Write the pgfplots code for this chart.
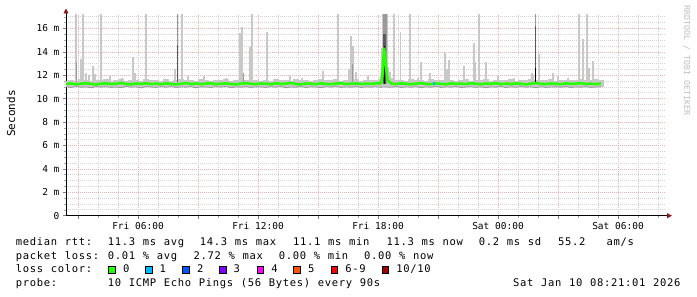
\documentclass[border=0pt]{standalone}
\usepackage{pgfplots}
\pgfplotsset{compat=1.18}
\usepackage{pgfplotstable}
\usetikzlibrary{arrows.meta}
\usepackage{fontspec}
\setmainfont{DejaVu Sans Mono}
\definecolor{loss0}{HTML}{26FF00}
\definecolor{loss1}{HTML}{00B8FF}
\definecolor{loss2}{HTML}{0059FF}
\definecolor{loss3}{HTML}{7E00FF}
\definecolor{loss4}{HTML}{FF00FF}
\definecolor{loss5}{HTML}{FF5500}
\definecolor{loss6}{HTML}{FF0000}
\definecolor{loss10}{HTML}{A10000}
\definecolor{smoke}{HTML}{C8C8C8}
\definecolor{smokemid}{HTML}{9A9A9A}
\definecolor{smokedark}{HTML}{5A5A5A}
\definecolor{mgrid}{HTML}{F2B0B0}
\definecolor{mingrid}{HTML}{D2D2D2}
\definecolor{arrowred}{HTML}{8B1A1A}
\definecolor{watermark}{HTML}{BEBEBE}
\newcommand\mono[1]{\monoloop#1\relax}
\def\monoloop#1{\ifx#1\relax\else\makebox[7pt]{#1}\expandafter\monoloop\fi}
\newcommand\legfont{\fontsize{10.5}{12}\selectfont}

\pgfplotstableread{
h med up lo
2.40 11.26 11.55 11.02
2.65 11.30 11.62 10.96
2.90 11.24 11.50 11.05
3.15 11.28 11.68 10.98
3.40 11.33 11.58 11.01
3.65 11.27 11.52 10.94
3.90 11.22 11.64 11.04
4.15 11.29 11.57 10.99
4.40 11.31 11.70 11.03
4.65 11.25 11.53 10.97
4.90 11.28 11.60 11.00
5.15 11.35 11.66 10.95
5.40 11.26 11.51 11.06
5.65 11.23 11.58 10.99
5.90 11.30 11.63 11.02
6.15 11.27 11.55 10.93
6.40 11.32 11.72 11.04
6.65 11.25 11.57 11.00
6.90 11.29 11.61 10.97
7.15 11.24 11.54 11.03
7.40 11.31 11.65 10.98
7.65 11.27 11.52 11.05
7.90 11.22 11.59 10.96
8.15 11.28 11.67 11.01
8.40 11.34 11.56 10.99
8.65 11.26 11.62 11.04
8.90 11.30 11.50 10.94
9.15 11.25 11.69 11.02
9.40 11.29 11.58 11.00
9.65 11.32 11.55 10.97
9.90 11.24 11.63 11.03
10.15 11.28 11.57 10.99
10.40 11.31 11.66 11.06
10.65 11.26 11.52 10.95
10.90 11.23 11.60 11.01
11.15 11.29 11.71 10.98
11.40 11.33 11.56 11.04
11.65 11.27 11.59 10.96
11.90 11.25 11.64 11.02
12.15 11.30 11.53 11.00
12.40 11.28 11.61 10.97
12.65 11.24 11.55 11.03
12.90 11.32 11.68 10.99
13.15 11.27 11.58 11.05
13.40 11.29 11.63 10.94
13.65 11.35 11.51 11.01
13.90 11.26 11.66 10.98
14.15 11.23 11.57 11.04
14.40 11.30 11.62 10.96
14.65 11.28 11.54 11.02
14.90 11.25 11.60 11.00
15.15 11.31 11.70 10.95
15.40 11.27 11.56 11.03
15.65 11.24 11.59 10.99
15.90 11.29 11.65 11.05
16.15 11.33 11.53 10.97
16.40 11.26 11.62 11.01
16.65 11.28 11.58 10.98
16.90 11.30 11.67 11.04
17.15 11.25 11.55 10.96
17.40 11.29 11.61 11.02
17.65 11.27 11.57 10.99
17.90 11.32 11.64 11.03
18.15 11.30 11.70 10.97
18.22 12.00 11.90 11.00
18.30 14.30 11.90 11.00
18.36 13.60 11.90 11.00
18.40 12.70 11.80 11.00
18.48 11.60 11.80 11.00
18.65 11.30 11.75 10.98
18.90 11.26 11.58 11.04
19.15 11.31 11.63 10.96
19.40 11.28 11.55 11.01
19.65 11.24 11.66 10.99
19.90 11.29 11.59 11.03
20.15 11.33 11.62 10.95
20.40 11.27 11.53 11.02
20.65 11.25 11.68 10.98
20.90 11.30 11.57 11.05
21.15 11.28 11.61 10.97
21.40 11.23 11.56 11.01
21.65 11.31 11.64 10.99
21.90 11.27 11.52 11.04
22.15 11.29 11.60 10.96
22.40 11.26 11.67 11.00
22.65 11.32 11.55 11.03
22.90 11.28 11.62 10.97
23.15 11.24 11.58 11.02
23.40 11.30 11.70 10.94
23.65 11.27 11.54 11.01
23.90 11.33 11.63 10.99
24.15 11.25 11.57 11.05
24.40 11.29 11.60 10.96
24.65 11.26 11.66 11.02
24.90 11.31 11.53 10.98
25.15 11.28 11.61 11.04
25.40 11.22 11.58 10.99
25.65 11.29 11.65 11.01
25.90 11.34 11.56 10.95
26.15 11.27 11.62 11.03
26.40 11.25 11.59 10.97
26.65 11.30 11.68 11.00
26.90 11.28 11.55 11.02
27.15 11.24 11.63 10.98
27.40 11.31 11.57 11.04
27.65 11.27 11.64 10.96
27.90 11.29 11.60 11.01
28.15 11.33 11.72 10.99
28.40 11.26 11.58 11.03
28.65 11.28 11.62 10.97
28.90 11.25 11.66 11.00
29.15 11.30 11.59 11.02
}\rtt

\begin{document}
\begin{tikzpicture}
\path[use as bounding box] (0pt,0pt) rectangle (697pt,-297pt);
\begin{axis}[
  at={(66pt,-215.7pt)}, anchor=south west,
  width=600pt, height=201.2pt, scale only axis,
  xmin=2.4, xmax=32.4, ymin=0, ymax=17.2,
  no markers,
  axis lines=left,
  axis line style={line width=0.9pt, black, -{Triangle[length=5pt,width=5pt,color=arrowred]}},
  x axis line style={shorten >=-6pt},
  y axis line style={shorten >=-6pt},
  xtick={3,6,...,30},
  xticklabels={,Fri 06:00,,Fri 12:00,,Fri 18:00,,Sat 00:00,,Sat 06:00},
  minor xtick={3,4,...,32},
  ytick={0,2,...,16},
  yticklabels={0,2 m,4 m,6 m,8 m,10 m,12 m,14 m,16 m},
  minor ytick={0.5,1,...,17},
  grid=both,
  major grid style={mgrid, line width=0.8pt, dash pattern=on 1pt off 1pt},
  minor grid style={mingrid, line width=0.8pt, dash pattern=on 1pt off 1pt},
  tick align=outside, major tick length=3pt, minor tick length=2pt,
  major tick style={gray, line width=0.6pt},
  minor tick style={gray!70, line width=0.6pt},
  every tick label/.append style={font=\fontsize{9.5}{10}\selectfont, text=black},
]
% smoke band
\addplot[draw=none, error bars/.cd, y dir=both, y explicit,
  error mark=none, error bar style={smoke, line width=5.4pt}]
  table[x=h, y=med, y error plus expr=\thisrow{up}-\thisrow{med},
        y error minus expr=\thisrow{med}-\thisrow{lo}]{\rtt};
\addplot[smokemid, line width=0.9pt] table[x=h,y=lo]{\rtt};
% wide light spikes
\addplot[smoke, line width=2pt, unbounded coords=jump] coordinates {
 (2.875,11.4) (2.875,17.5) (2.875,nan)
 (3.225,11.4) (3.225,17.5) (3.225,nan)
 (4.15,11.4) (4.15,17.5) (4.15,nan)
 (8.175,11.4) (8.175,17.5) (8.175,nan)
 (11.7,11.4) (11.7,17.5) (11.7,nan)
 (16.0,11.4) (16.0,17.5) (16.0,nan)
 (19.6,11.4) (19.6,17.5) (19.6,nan)
 (28.05,11.4) (28.05,17.5) (28.05,nan)
 (28.43,11.4) (28.43,17.5) (28.43,nan)
 (11.6,11.4) (11.6,14.4) (11.6,nan)
 (16.7,11.4) (16.7,12.6) (16.7,nan)
 (22.85,11.4) (22.85,13.1) (22.85,nan)
};
% thin light spikes
\addplot[smoke, line width=1.2pt, unbounded coords=jump] coordinates {
 (3.15,11.4) (3.15,13.4) (3.15,nan)
 (3.4,11.4) (3.4,12.2) (3.4,nan)
 (3.55,11.4) (3.55,12.0) (3.55,nan)
 (3.75,11.4) (3.75,12.8) (3.75,nan)
 (3.85,11.4) (3.85,12.1) (3.85,nan)
 (4.6,11.4) (4.6,11.9) (4.6,nan)
 (5.2,11.4) (5.2,11.8) (5.2,nan)
 (5.75,11.4) (5.75,13.6) (5.75,nan)
 (5.85,11.4) (5.85,12.2) (5.85,nan)
 (6.4,11.4) (6.4,17.5) (6.4,nan)
 (7.85,11.4) (7.85,12.5) (7.85,nan)
 (8.5,11.4) (8.5,11.9) (8.5,nan)
 (9.3,11.4) (9.3,11.9) (9.3,nan)
 (10.4,11.4) (10.4,11.8) (10.4,nan)
 (11.1,11.4) (11.1,15.6) (11.1,nan)
 (11.2,11.4) (11.2,16.1) (11.2,nan)
 (12.45,11.4) (12.45,15.7) (12.45,nan)
 (13.6,11.4) (13.6,11.9) (13.6,nan)
 (14.2,11.4) (14.2,11.8) (14.2,nan)
 (15.25,11.4) (15.25,12.4) (15.25,nan)
 (16.55,11.4) (16.55,12.5) (16.55,nan)
 (16.65,11.4) (16.65,15.4) (16.65,nan)
 (16.75,11.4) (16.75,14.5) (16.75,nan)
 (16.9,11.4) (16.9,12.3) (16.9,nan)
 (17.5,11.4) (17.5,11.9) (17.5,nan)
 (18.6,11.4) (18.6,12.3) (18.6,nan)
 (18.8,11.4) (18.8,17.5) (18.8,nan)
 (19.13,11.4) (19.13,15.7) (19.13,nan)
 (20.0,11.4) (20.0,11.8) (20.0,nan)
 (20.15,11.4) (20.15,13.1) (20.15,nan)
 (20.6,11.4) (20.6,12.2) (20.6,nan)
 (21.35,11.4) (21.35,13.9) (21.35,nan)
 (21.45,11.4) (21.45,12.5) (21.45,nan)
 (21.55,11.4) (21.55,13.3) (21.55,nan)
 (22.3,11.4) (22.3,12.8) (22.3,nan)
 (22.8,11.4) (22.8,14.8) (22.8,nan)
 (23.05,11.4) (23.05,17.5) (23.05,nan)
 (23.4,11.4) (23.4,13.1) (23.4,nan)
 (24.0,11.4) (24.0,11.9) (24.0,nan)
 (24.8,11.4) (24.8,11.8) (24.8,nan)
 (25.7,11.4) (25.7,12.2) (25.7,nan)
 (25.75,11.4) (25.75,12.0) (25.75,nan)
 (26.05,11.4) (26.05,13.8) (26.05,nan)
 (26.75,11.4) (26.75,12.2) (26.75,nan)
 (27.0,11.4) (27.0,11.9) (27.0,nan)
 (27.5,11.4) (27.5,11.8) (27.5,nan)
 (28.25,11.4) (28.25,15.1) (28.25,nan)
 (28.55,11.4) (28.55,12.6) (28.55,nan)
 (28.75,11.4) (28.75,13.2) (28.75,nan)
};
% medium grey spikes
\addplot[smokemid, line width=1pt, unbounded coords=jump] coordinates {
 (2.9,11.4) (2.9,13.1) (2.9,nan)
 (7.975,11.4) (7.975,17.5) (7.975,nan)
 (11.25,11.4) (11.25,12.2) (11.25,nan)
 (25.85,11.4) (25.85,17.5) (25.85,nan)
 (16.7,11.4) (16.7,13.0) (16.7,nan)
};
\addplot[smokedark, line width=1pt, unbounded coords=jump] coordinates {
 (7.975,11.4) (7.975,14.6) (7.975,nan)
 (25.85,11.4) (25.85,16.2) (25.85,nan)
};
% cluster around Fri 18:20
\addplot[smoke, line width=6.8pt] coordinates {(18.35,11.3) (18.35,17.5)};
\addplot[smokemid, line width=4pt] coordinates {(18.33,11.3) (18.33,17.5)};
\addplot[smokedark, line width=2.8pt] coordinates {(18.34,11.3) (18.34,15.5)};
\addplot[black, line width=1.4pt] coordinates {(18.335,11.3) (18.335,14.5)};
\addplot[black, line width=1pt] coordinates {(25.85,11.3) (25.85,12.6)};
% median
\addplot[loss0, line width=2.6pt, line join=round] table[x=h,y=med]{\rtt};
\addplot[loss1, line width=2.6pt] coordinates {(20.77,11.28) (20.85,11.28)};
\end{axis}
% axis title and watermark
\node[rotate=90, font=\fontsize{11}{12}\selectfont] at (11pt,-113.5pt) {Seconds};
\node[rotate=-90, anchor=west, inner sep=0pt, text=watermark, font=\fontsize{8.3}{9}\selectfont] at (686.7pt,-5pt) {RRDTOOL / TOBI OETIKER};
% legend rows
\begin{scope}[every node/.style={anchor=base west, inner sep=0pt, font=\legfont}]
\node at (15.3pt,-245pt) {\mono{median~rtt:}};
\node at (107.3pt,-245pt) {\mono{11.3~ms~avg}};
\node at (199.3pt,-245pt) {\mono{14.3~ms~max}};
\node at (292.6pt,-245pt) {\mono{11.1~ms~min}};
\node at (386pt,-245pt) {\mono{11.3~ms~now}};
\node at (478.3pt,-245pt) {\mono{0.2~ms~sd}};
\node at (557.6pt,-245pt) {\mono{55.2}};
\node at (606pt,-245pt) {\mono{am/s}};
\node at (15.3pt,-259pt) {\mono{packet~loss:}};
\node at (107.3pt,-259pt) {\mono{0.01~\%~avg}};
\node at (193pt,-259pt) {\mono{2.72~\%~max}};
\node at (278.3pt,-259pt) {\mono{0.00~\%~min}};
\node at (363.6pt,-259pt) {\mono{0.00~\%~now}};
\node at (15.3pt,-272.7pt) {\mono{loss~color:}};
\node at (122.5pt,-272.7pt) {\mono{0}};
\node at (159.2pt,-272.7pt) {\mono{1}};
\node at (196.5pt,-272.7pt) {\mono{2}};
\node at (233.2pt,-272.7pt) {\mono{3}};
\node at (270.9pt,-272.7pt) {\mono{4}};
\node at (307.5pt,-272.7pt) {\mono{5}};
\node at (344.9pt,-272.7pt) {\mono{6-9}};
\node at (395.9pt,-272.7pt) {\mono{10/10}};
\node at (15.3pt,-286.7pt) {\mono{probe:}};
\node at (107.3pt,-286.7pt) {\mono{10~ICMP~Echo~Pings~(56~Bytes)~every~90s}};
\node at (512.6pt,-286.7pt) {\mono{Sat~Jan~10~08:21:01~2026}};
\end{scope}
\begin{scope}[line width=0.8pt, draw=black]
\filldraw[fill=loss0] (108.7pt,-272.9pt) rectangle ++(6.6pt,6.6pt);
\filldraw[fill=loss1] (145.4pt,-272.9pt) rectangle ++(6.6pt,6.6pt);
\filldraw[fill=loss2] (182.7pt,-272.9pt) rectangle ++(6.6pt,6.6pt);
\filldraw[fill=loss3] (219.4pt,-272.9pt) rectangle ++(6.6pt,6.6pt);
\filldraw[fill=loss4] (257.1pt,-272.9pt) rectangle ++(6.6pt,6.6pt);
\filldraw[fill=loss5] (293.7pt,-272.9pt) rectangle ++(6.6pt,6.6pt);
\filldraw[fill=loss6] (331.1pt,-272.9pt) rectangle ++(6.6pt,6.6pt);
\filldraw[fill=loss10] (382.1pt,-272.9pt) rectangle ++(6.6pt,6.6pt);
\end{scope}
\end{tikzpicture}
\end{document}
